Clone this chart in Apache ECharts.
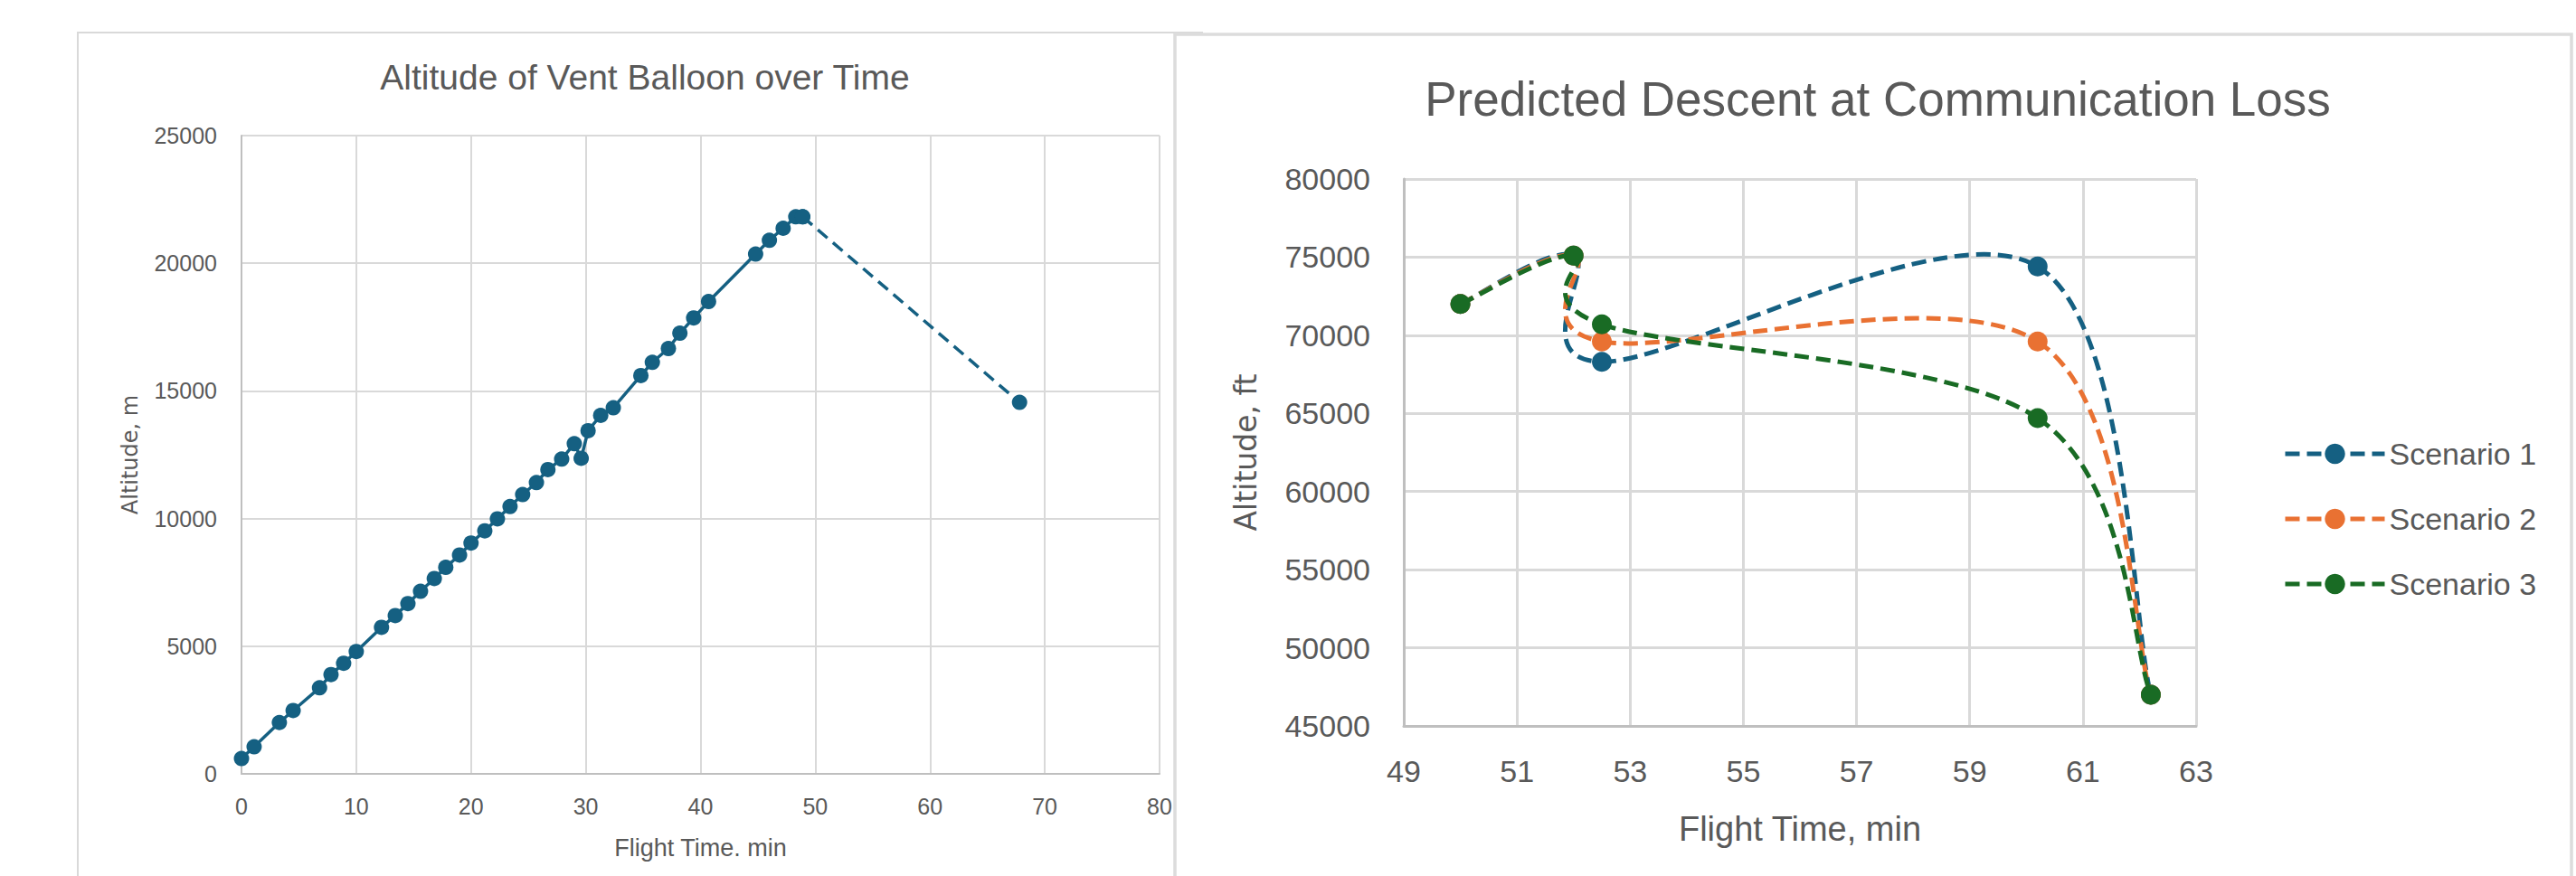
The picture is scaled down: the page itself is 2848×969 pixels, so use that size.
<!DOCTYPE html>
<html>
<head>
<meta charset="utf-8">
<title>Vent Balloon Flight</title>
<script src="https://cdn.jsdelivr.net/npm/echarts@6/dist/echarts.min.js"></script>
<style>
  html, body { margin: 0; padding: 0; background: #ffffff; }
  #chart { width: 2848px; height: 969px; }
</style>
</head>
<body>
<div id="chart"></div>
<script>
// Ascent of the vent balloon: flight time (min) and altitude (m)
const ventTime = [0, 1.1, 3.3, 4.5, 6.8, 7.8, 8.9, 10.0, 12.2, 13.4, 14.5, 15.6, 16.8, 17.8, 19.0, 20.0,
  21.2, 22.3, 23.4, 24.5, 25.7, 26.7, 27.9, 29.0, 29.6, 30.2, 31.3, 32.4, 34.8, 35.8, 37.2, 38.2,
  39.4, 40.7, 44.8, 46.0, 47.2, 48.3, 48.9];
const ventAltitude = [600, 1060, 2010, 2480, 3370, 3890, 4330, 4790, 5740, 6200, 6670, 7150, 7650, 8090, 8570, 9040,
  9520, 9990, 10470, 10940, 11410, 11920, 12330, 12930, 12360, 13440, 14040, 14340, 15600, 16120, 16660, 17260,
  17860, 18500, 20360, 20900, 21370, 21820, 21820];

// Projected leg after the last ascent fix
const projTime = [48.9, 67.8];
const projAltitude = [21820, 14550];

// Predicted descent after communication loss (altitude in ft)
const descentTime = [50.0, 52.0, 52.5, 60.2, 62.2];
const scenario1Alt = [72000, 75100, 68300, 74400, 47000];
const scenario2Alt = [72000, 75100, 69600, 69600, 47000];
const scenario3Alt = [72000, 75100, 70700, 64700, 47000];
const scenarioNames = ['Scenario 1', 'Scenario 2', 'Scenario 3'];

// Axis tick values
const ventTimeTicks = [0, 10, 20, 30, 40, 50, 60, 70, 80];
const ventAltTicks = [0, 5000, 10000, 15000, 20000, 25000];
const descentTimeTicks = [49, 51, 53, 55, 57, 59, 61, 63];
const descentAltTicks = [45000, 50000, 55000, 60000, 65000, 70000, 75000, 80000];

const FONT = "'Liberation Sans', Arial, sans-serif";
const WIDE = "'DejaVu Sans', Verdana, sans-serif";
const TEXT = '#595959';
const GRID = '#d9d9d9';
const AXIS = '#bfbfbf';
const COLORS = ['#156082', '#e97132', '#196b24'];
const DESCENT_DASH = [16, 8];
const DESCENT_WIDTH = 5;

function pairs(xs, ys) { return xs.map((x, i) => [x, ys[i]]); }

const chart = echarts.init(document.getElementById('chart'), null, { renderer: 'svg' });

function valueAxis(gridIndex, ticks, opts) {
  const step = ticks[1] - ticks[0];
  return Object.assign({
    type: 'value',
    gridIndex: gridIndex,
    min: ticks[0],
    max: ticks[ticks.length - 1],
    interval: step,
    axisLine: { show: true, onZero: false, lineStyle: { color: AXIS, width: opts.lw } },
    axisTick: { show: false, customValues: ticks },
    splitLine: { show: true, lineStyle: { color: GRID, width: opts.lw } },
    axisLabel: {
      color: TEXT, fontSize: opts.fs, fontFamily: FONT, margin: opts.margin,
      customValues: ticks, formatter: (v) => String(v)
    },
    nameLocation: 'middle'
  }, opts.extra);
}

// Smoothed curve through the scenario points (cardinal Bezier, tension 1/6),
// placed with the grid's own coordinate conversion.
function splineRenderer(color) {
  return function (params, api) {
    const i = params.dataIndexInside;
    const n = params.dataInsideLength;
    if (i >= n - 1) return null;
    const P = (j) => {
      const k = Math.max(0, Math.min(n - 1, j));
      return api.coord([api.value(0, k), api.value(1, k)]);
    };
    const p0 = P(i - 1), p1 = P(i), p2 = P(i + 1), p3 = P(i + 2);
    const t = 1 / 6;
    return {
      type: 'bezierCurve',
      silent: true,
      shape: {
        x1: p1[0], y1: p1[1], x2: p2[0], y2: p2[1],
        cpx1: p1[0] + (p2[0] - p0[0]) * t, cpy1: p1[1] + (p2[1] - p0[1]) * t,
        cpx2: p2[0] - (p3[0] - p1[0]) * t, cpy2: p2[1] - (p3[1] - p1[1]) * t
      },
      style: { stroke: color, fill: null, lineWidth: DESCENT_WIDTH, lineDash: DESCENT_DASH, lineCap: 'butt' }
    };
  };
}

const scenarioSeries = [];
[scenario1Alt, scenario2Alt, scenario3Alt].forEach((alt, i) => {
  const data = pairs(descentTime, alt);
  scenarioSeries.push({
    name: scenarioNames[i] + ' curve',
    type: 'custom',
    xAxisIndex: 1,
    yAxisIndex: 1,
    data: data,
    encode: { x: 0, y: 1 },
    renderItem: splineRenderer(COLORS[i]),
    silent: true,
    z: 3 + 2 * i
  });
  scenarioSeries.push({
    name: scenarioNames[i],
    type: 'line',
    xAxisIndex: 1,
    yAxisIndex: 1,
    data: data,
    symbol: 'circle',
    symbolSize: 22,
    showSymbol: true,
    color: COLORS[i],
    itemStyle: { color: COLORS[i] },
    lineStyle: { color: COLORS[i], width: DESCENT_WIDTH, type: DESCENT_DASH, opacity: 0 },
    z: 4 + 2 * i
  });
});

const option = {
  animation: false,
  backgroundColor: '#ffffff',
  title: [
    {
      text: 'Altitude of Vent Balloon over Time',
      left: 708, top: 61, textAlign: 'center',
      textStyle: { color: TEXT, fontSize: 39, fontWeight: 'normal', fontFamily: FONT }
    },
    {
      text: 'Predicted Descent at Communication Loss',
      left: 2071, top: 78, textAlign: 'center',
      textStyle: { color: TEXT, fontSize: 53, fontWeight: 'normal', fontFamily: FONT }
    }
  ],
  grid: [
    { left: 267, top: 150, width: 1015, height: 706, containLabel: false },
    { left: 1552, top: 198, width: 876, height: 605, containLabel: false }
  ],
  xAxis: [
    valueAxis(0, ventTimeTicks, { lw: 2, fs: 25, margin: 23, extra: {
      name: 'Flight Time. min', nameGap: 68,
      nameTextStyle: { color: TEXT, fontSize: 27, fontFamily: FONT } } }),
    valueAxis(1, descentTimeTicks, { lw: 3, fs: 34, margin: 33, extra: {
      name: 'Flight Time, min', nameGap: 95,
      nameTextStyle: { color: TEXT, fontSize: 38, fontFamily: FONT } } })
  ],
  yAxis: [
    valueAxis(0, ventAltTicks, { lw: 2, fs: 25, margin: 27, extra: {
      name: 'Altitude, m', nameGap: 111,
      nameTextStyle: { color: TEXT, fontSize: 24, fontFamily: WIDE } } }),
    valueAxis(1, descentAltTicks, { lw: 3, fs: 34, margin: 37, extra: {
      name: 'Altitude, ft', nameGap: 158,
      nameTextStyle: { color: TEXT, fontSize: 33, fontFamily: WIDE } } })
  ],
  legend: {
    data: scenarioNames.map((name) => ({
      name: name,
      lineStyle: { width: DESCENT_WIDTH, type: DESCENT_DASH, opacity: 1 }
    })),
    orient: 'vertical',
    left: 2519,
    top: 480,
    itemWidth: 110,
    itemHeight: 28,
    itemGap: 38,
    textStyle: { color: TEXT, fontSize: 34, fontFamily: FONT }
  },
  graphic: [
    {
      type: 'polyline', silent: true, z: -1,
      shape: { points: [[86, 975], [86, 36], [1330, 36]] },
      style: { fill: null, stroke: '#d9d9d9', lineWidth: 2 }
    },
    {
      type: 'polyline', silent: true, z: -1,
      shape: { points: [[1299, 975], [1299, 38], [2843, 38], [2843, 975]] },
      style: { fill: null, stroke: '#dcdcdc', lineWidth: 3.5 }
    }
  ],
  series: [
    {
      name: 'Ascent',
      type: 'line',
      xAxisIndex: 0,
      yAxisIndex: 0,
      data: pairs(ventTime, ventAltitude),
      symbol: 'circle',
      symbolSize: 17,
      color: COLORS[0],
      itemStyle: { color: COLORS[0] },
      lineStyle: { color: COLORS[0], width: 3.5 },
      z: 3
    },
    {
      name: 'Projected',
      type: 'line',
      xAxisIndex: 0,
      yAxisIndex: 0,
      data: pairs(projTime, projAltitude),
      symbol: 'circle',
      symbolSize: 17,
      color: COLORS[0],
      itemStyle: { color: COLORS[0] },
      lineStyle: { color: COLORS[0], width: 3.5, type: [14, 8] },
      z: 3
    }
  ].concat(scenarioSeries)
};

chart.setOption(option);
</script>
</body>
</html>
